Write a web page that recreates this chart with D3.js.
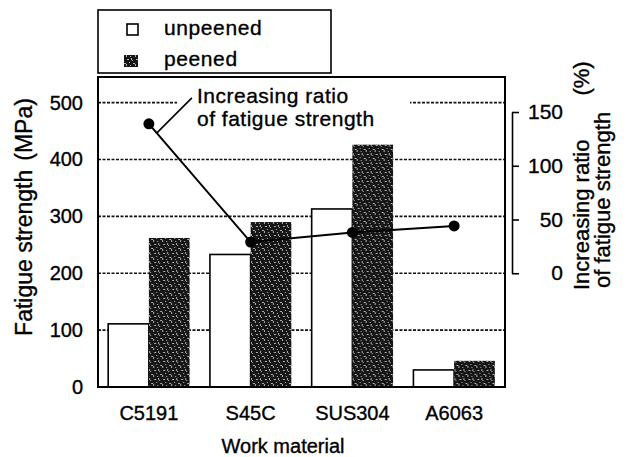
<!DOCTYPE html>
<html>
<head>
<meta charset="utf-8">
<script src="https://cdn.jsdelivr.net/npm/d3@7"></script>
<style>
  body { margin: 0; background: #fff; }
  svg { display: block; font-family: 'Liberation Sans', Arial, sans-serif; }
  svg text { stroke: #000; stroke-width: 0.35px; }
</style>
</head>
<body>
<div id="chart"></div>
<script>
const materials = ['C5191', 'S45C', 'SUS304', 'A6063'];
const unpeened = [111, 233, 313, 30];
const peened = [262, 290, 426, 46];
const ratio = [139, 29, 38, 44];
const leftTicks = [0, 100, 200, 300, 400, 500];
const rightTicks = [0, 50, 100, 150];
const seriesNames = ['unpeened', 'peened'];

(function() {
    const width = 627,
          height = 457,
          left = 98, right = 505, top = 77, bottom = 387;

    const svg = d3.select('#chart')
      .append('svg')
      .attr('width', width)
      .attr('height', height);

    // speckled dark fill for the peened bars
    const pat = svg.append('defs').append('pattern')
      .attr('id', 'speckle')
      .attr('patternUnits', 'userSpaceOnUse')
      .attr('width', 9)
      .attr('height', 9);
    pat.append('rect').attr('width', 9).attr('height', 9).attr('fill', '#161616');
    [[1, 1, 2, 1], [5, 0, 1, 2], [3, 4, 1, 1], [7, 5, 2, 1], [0, 6, 1, 2], [4, 7, 1, 1], [6, 2, 1, 1]]
      .forEach(s => pat.append('rect')
        .attr('x', s[0]).attr('y', s[1]).attr('width', s[2]).attr('height', s[3])
        .attr('fill', '#b0b0b0'));

    const x = d3.scaleBand()
      .domain(materials)
      .range([left, right])
      .paddingInner(0.2)
      .paddingOuter(0.1);

    const xs = d3.scaleBand()
      .domain(seriesNames)
      .range([0, x.bandwidth()]);

    const y = d3.scaleLinear()
      .domain([0, 545])
      .range([bottom, top]);

    const yR = d3.scaleLinear()
      .domain([0, 150])
      .range([y(200), 112]);

    // dotted grid
    svg.append('g')
      .selectAll('line')
      .data(leftTicks.filter(d => d > 0))
      .enter().append('line')
        .attr('x1', left).attr('x2', right)
        .attr('y1', d => y(d)).attr('y2', d => y(d))
        .attr('stroke', '#111')
        .attr('stroke-width', 1.6)
        .attr('stroke-dasharray', '3,1.5');

    // bars
    const groups = svg.append('g')
      .selectAll('g')
      .data(materials)
      .enter().append('g')
        .attr('transform', d => `translate(${x(d)},0)`);

    groups.append('rect')
      .attr('x', xs('unpeened'))
      .attr('y', (d, i) => y(unpeened[i]))
      .attr('width', xs.bandwidth())
      .attr('height', (d, i) => y(0) - y(unpeened[i]))
      .attr('fill', '#fff')
      .attr('stroke', '#000')
      .attr('stroke-width', 1.6);

    groups.append('rect')
      .attr('x', xs('peened'))
      .attr('y', (d, i) => y(peened[i]))
      .attr('width', xs.bandwidth())
      .attr('height', (d, i) => y(0) - y(peened[i]))
      .attr('fill', 'url(#speckle)');

    // frame
    svg.append('rect')
      .attr('x', left).attr('y', top)
      .attr('width', right - left).attr('height', bottom - top)
      .attr('fill', 'none')
      .attr('stroke', '#000')
      .attr('stroke-width', 2);

    // left axis labels
    const yAxis = d3.axisLeft(y)
      .tickValues(leftTicks)
      .tickSize(0)
      .tickPadding(15);
    const ya = svg.append('g')
      .attr('transform', `translate(${left},0)`)
      .call(yAxis);
    ya.select('.domain').remove();
    ya.selectAll('text')
      .attr('font-size', 20)
      .attr('font-family', 'Liberation Sans, Arial, sans-serif')
      .attr('fill', '#000');

    // category labels
    const xAxis = d3.axisBottom(x).tickSize(0).tickPadding(19);
    const xa = svg.append('g')
      .attr('transform', `translate(0,${bottom})`)
      .call(xAxis);
    xa.select('.domain').remove();
    xa.selectAll('text')
      .attr('font-size', 20)
      .attr('font-family', 'Liberation Sans, Arial, sans-serif')
      .attr('fill', '#000');

    // right axis
    const rAxis = d3.axisRight(yR)
      .tickValues(rightTicks)
      .tickSizeInner(7)
      .tickSizeOuter(0);
    const ra = svg.append('g')
      .attr('transform', 'translate(512,0)')
      .call(rAxis);
    ra.selectAll('path, line').attr('stroke', '#000').attr('stroke-width', 1.6);
    ra.selectAll('text')
      .attr('x', 51)
      .attr('text-anchor', 'end')
      .attr('font-size', 21)
      .attr('font-family', 'Liberation Sans, Arial, sans-serif')
      .attr('fill', '#000');

    // ratio line
    const cx = d => x(d) + x.bandwidth() / 2;
    const pts = materials.map((d, i) => [cx(d), yR(ratio[i])]);

    svg.append('path')
      .attr('d', d3.line()(pts))
      .attr('fill', 'none')
      .attr('stroke', '#000')
      .attr('stroke-width', 2);

    svg.append('g')
      .selectAll('circle')
      .data(pts)
      .enter().append('circle')
        .attr('cx', d => d[0])
        .attr('cy', d => d[1])
        .attr('r', 5.5)
        .attr('fill', '#000');

    // annotation
    svg.append('rect')
      .attr('x', 177).attr('y', 96)
      .attr('width', 233).attr('height', 14)
      .attr('fill', '#fff');

    const p0 = pts[0];
    svg.append('line')
      .attr('x1', p0[0] + 8).attr('y1', p0[1] + 9)
      .attr('x2', p0[0] + 43).attr('y2', p0[1] - 26)
      .attr('stroke', '#000')
      .attr('stroke-width', 1.6);

    svg.append('text')
      .attr('x', 197).attr('y', 103)
      .attr('font-size', 21)
      .attr('letter-spacing', 0.5)
      .attr('fill', '#000')
      .text('Increasing ratio');
    svg.append('text')
      .attr('x', 197).attr('y', 126)
      .attr('font-size', 21)
      .attr('letter-spacing', 0.5)
      .attr('fill', '#000')
      .text('of fatigue strength');

    // axis titles
    const yt = svg.append('text')
      .attr('transform', 'translate(32,217) rotate(-90)')
      .attr('text-anchor', 'middle')
      .attr('font-size', 23)
      .attr('fill', '#000')
      .text('Fatigue strength');
    yt.append('tspan').attr('dx', 9).text('(MPa)');

    const rt = svg.append('text')
      .attr('transform', 'translate(589,290) rotate(-90)')
      .attr('font-size', 22)
      .attr('fill', '#000')
      .text('Increasing ratio');
    rt.append('tspan').attr('dx', 44).text('(%)');

    svg.append('text')
      .attr('transform', 'translate(610,288) rotate(-90)')
      .attr('font-size', 22)
      .attr('fill', '#000')
      .text('of fatigue strength');

    svg.append('text')
      .attr('x', 283)
      .attr('y', 453)
      .attr('text-anchor', 'middle')
      .attr('font-size', 20)
      .attr('fill', '#000')
      .text('Work material');

    // legend
    const lg = svg.append('g');
    lg.append('rect')
      .attr('x', 98).attr('y', 10)
      .attr('width', 233).attr('height', 63)
      .attr('fill', '#fff')
      .attr('stroke', '#000')
      .attr('stroke-width', 1.6);

    const items = lg.selectAll('g')
      .data(seriesNames)
      .enter().append('g')
        .attr('transform', (d, i) => `translate(0,${i * 31})`);

    items.append('rect')
      .attr('x', d => d === 'peened' ? 124 : 127)
      .attr('y', 24)
      .attr('width', d => d === 'peened' ? 14 : 11)
      .attr('height', d => d === 'peened' ? 12 : 11)
      .attr('fill', d => d === 'peened' ? 'url(#speckle)' : '#fff')
      .attr('stroke', d => d === 'peened' ? 'none' : '#000')
      .attr('stroke-width', 1.6);

    items.append('text')
      .attr('x', 164)
      .attr('y', 35)
      .attr('font-size', 21)
      .attr('letter-spacing', 0.6)
      .attr('fill', '#000')
      .text(d => d);
})();
</script>
</body>
</html>
